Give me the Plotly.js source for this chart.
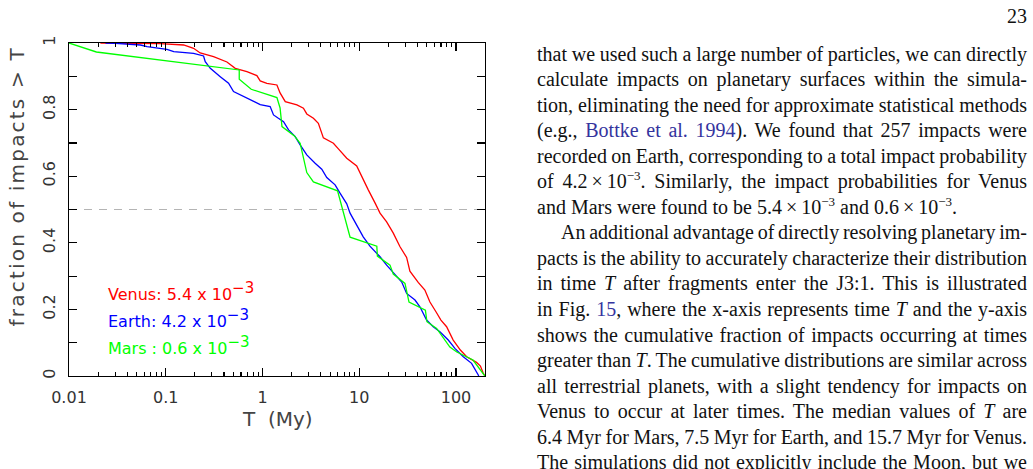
<!DOCTYPE html>
<html>
<head>
<meta charset="utf-8">
<script src="https://cdn.plot.ly/plotly-3.0.1.min.js"></script>
<style>
  html, body { margin: 0; padding: 0; background: #fff; }
  #page { position: relative; width: 1033px; height: 469px; overflow: hidden; }
  #chart { position: absolute; left: 0; top: 0; width: 1033px; height: 469px; }
  #pageno { position: absolute; right: 6px; top: 4px; font: 20px "Liberation Serif", serif; line-height: 24px; color: #111; }
  #body { position: absolute; left: 537px; top: 41.5px; width: 490px; font-family: "Liberation Serif", serif; font-size: 20px; color: #111; }
  .ln { height: 25.55px; line-height: 25.55px; white-space: nowrap; }
  .ln > span { display: inline-block; white-space: nowrap; }
  .ind { padding-left: 24px; }
  .ref { color: #34349e; }
  sup { font-size: 13px; line-height: 0; vertical-align: 8px; }
  .annotation[data-index="0"] text { letter-spacing: 2.2px; }
</style>
</head>
<body>
<div id="page">
  <div id="chart"></div>
  <div id="pageno">23</div>
  <div id="body">
    <div class="ln"><span>that we used such a large number of particles, we can directly</span></div>
    <div class="ln"><span>calculate impacts on planetary surfaces within the simula-</span></div>
    <div class="ln"><span>tion, eliminating the need for approximate statistical methods</span></div>
    <div class="ln"><span>(e.g., <span class="ref">Bottke et al. 1994</span>). We found that 257 impacts were</span></div>
    <div class="ln"><span>recorded on Earth, corresponding to a total impact probability</span></div>
    <div class="ln"><span>of 4.2&thinsp;×&thinsp;10<sup>−3</sup>. Similarly, the impact probabilities for Venus</span></div>
    <div class="ln last"><span>and Mars were found to be 5.4&thinsp;×&thinsp;10<sup>−3</sup> and 0.6&thinsp;×&thinsp;10<sup>−3</sup>.</span></div>
    <div class="ln ind"><span>An additional advantage of directly resolving planetary im-</span></div>
    <div class="ln"><span>pacts is the ability to accurately characterize their distribution</span></div>
    <div class="ln"><span>in time <i>T</i> after fragments enter the J3:1. This is illustrated</span></div>
    <div class="ln"><span>in Fig. <span class="ref">15</span>, where the x-axis represents time <i>T</i> and the y-axis</span></div>
    <div class="ln"><span>shows the cumulative fraction of impacts occurring at times</span></div>
    <div class="ln"><span>greater than <i>T</i>. The cumulative distributions are similar across</span></div>
    <div class="ln"><span>all terrestrial planets, with a slight tendency for impacts on</span></div>
    <div class="ln"><span>Venus to occur at later times. The median values of <i>T</i> are</span></div>
    <div class="ln"><span>6.4 Myr for Mars, 7.5 Myr for Earth, and 15.7 Myr for Venus.</span></div>
    <div class="ln"><span>The simulations did not explicitly include the Moon, but we</span></div>
  </div>
</div>
<script>
// Cumulative fraction of impacts occurring after time T (My), per planet
const venusT = [0.0211, 0.0314, 0.0879, 0.153, 0.194, 0.227, 0.312, 0.429, 0.523, 0.690, 0.875, 0.947, 1.11, 1.41, 1.52, 1.72, 2.27, 2.65, 2.87, 3.36, 3.78, 4.26, 5.41, 6.09, 7.43, 9.42, 10.6, 12.4, 14.6, 16.4, 19.2, 22.5, 26.4, 30.9, 33.4, 40.7, 47.7, 53.8, 62.1, 69.9, 80.0, 93.6, 111, 129, 163, 179, 191, 199];
const venusF = [1.0, 0.999, 0.998, 0.994, 0.984, 0.970, 0.959, 0.943, 0.924, 0.914, 0.902, 0.886, 0.879, 0.874, 0.850, 0.824, 0.814, 0.804, 0.787, 0.774, 0.759, 0.715, 0.699, 0.682, 0.654, 0.631, 0.598, 0.559, 0.519, 0.489, 0.463, 0.429, 0.388, 0.356, 0.315, 0.281, 0.258, 0.222, 0.193, 0.168, 0.148, 0.108, 0.078, 0.058, 0.041, 0.030, 0.009, 0.0];

const earthT = [0.0238, 0.0302, 0.0547, 0.0641, 0.103, 0.121, 0.194, 0.246, 0.256, 0.289, 0.366, 0.446, 0.502, 0.589, 0.746, 0.947, 1.20, 1.30, 1.46, 1.65, 1.86, 2.18, 2.45, 2.87, 3.50, 4.10, 4.62, 5.63, 6.33, 7.43, 8.04, 9.42, 11.0, 12.9, 16.4, 19.2, 22.5, 27.5, 30.9, 37.7, 42.4, 49.7, 58.2, 68.2, 83.2, 97.5, 119, 145, 170, 172];
const earthF = [1.0, 0.999, 0.994, 0.989, 0.981, 0.974, 0.969, 0.961, 0.944, 0.924, 0.899, 0.879, 0.854, 0.844, 0.829, 0.815, 0.809, 0.784, 0.774, 0.764, 0.739, 0.719, 0.694, 0.664, 0.639, 0.621, 0.596, 0.574, 0.549, 0.517, 0.489, 0.453, 0.418, 0.390, 0.358, 0.333, 0.309, 0.282, 0.248, 0.228, 0.208, 0.168, 0.148, 0.133, 0.108, 0.083, 0.058, 0.038, 0.003, 0.0];

const marsT = [0.01, 0.0192, 0.575, 0.575, 0.765, 1.41, 1.52, 1.59, 2.14, 2.45, 2.87, 3.36, 5.97, 8.04, 15.2, 15.4, 20.8, 22.5, 29.7, 32.7, 48.3, 50.1, 63.1, 68.2, 86.5, 102, 150, 199];
const marsF = [1.0, 0.973, 0.919, 0.891, 0.861, 0.836, 0.805, 0.749, 0.721, 0.699, 0.611, 0.583, 0.556, 0.417, 0.390, 0.360, 0.333, 0.306, 0.278, 0.222, 0.198, 0.163, 0.143, 0.129, 0.087, 0.072, 0.048, 0.0];

const planetNames = ["Venus", "Earth", "Mars "];
const impactProb = ["5.4", "4.2", "0.6"];
const planetColors = ["#ff0000", "#0000ff", "#00ff00"];
const medianLevel = 0.5;
const xTickVals = [0.01, 0.1, 1, 10, 100];
const xTickText = ["0.01", "0.1", "1", "10", "100"];

const series = [[venusT, venusF], [earthT, earthF], [marsT, marsF]];
const traces = series.map((s, i) => ({
  x: s[0], y: s[1], type: "scatter", mode: "lines",
  line: { color: planetColors[i], width: 1.3 },
  hoverinfo: "skip", showlegend: false
}));

// median reference line
traces.unshift({
  x: [0.01, 200], y: [medianLevel, medianLevel], type: "scatter", mode: "lines",
  line: { color: "#b4b4b4", width: 1.1, dash: "8px,7px" },
  hoverinfo: "skip", showlegend: false
});

const tickFont = { family: "DejaVu Sans, sans-serif", size: 16, color: "#333" };
const titleFont = { family: "DejaVu Sans, sans-serif", size: 20, color: "#444" };

const annotations = [
  { text: "fraction of impacts > T", xref: "paper", yref: "paper", x: -0.126, y: 0.572,
    textangle: -90, showarrow: false, font: titleFont, xanchor: "center", yanchor: "middle" },
  { text: "T  (My)", xref: "paper", yref: "paper", x: 0.5, y: -0.129,
    showarrow: false, font: titleFont, xanchor: "center", yanchor: "middle" }
];
const legendY = [0.255, 0.174, 0.093];
planetNames.forEach((n, i) => {
  annotations.push({
    text: n + ": " + impactProb[i] + " x 10<sup><span style=\"font-size:15px\">−3</span></sup>",
    xref: "paper", yref: "paper", x: 0.090, y: legendY[i],
    xanchor: "left", yanchor: "middle", showarrow: false,
    font: { family: "DejaVu Sans, sans-serif", size: 16, color: planetColors[i] }
  });
});

const layout = {
  width: 1033, height: 469,
  margin: { l: 68.5, r: 548, t: 43, b: 93 },
  paper_bgcolor: "#fff", plot_bgcolor: "#fff",
  showlegend: false,
  xaxis: {
    type: "log", range: [-2, 2.3], tickvals: xTickVals, ticktext: xTickText,
    ticks: "inside", ticklen: 8, tickwidth: 1.2, tickcolor: "#000",
    minor: { ticks: "inside", ticklen: 4, tickwidth: 1.1, tickcolor: "#000", dtick: "D1" },
    showline: true, linecolor: "#000", linewidth: 1.3, mirror: "ticks",
    showgrid: false, zeroline: false, tickfont: tickFont, ticklabelstandoff: 6
  },
  yaxis: {
    range: [0, 1], dtick: 0.2, tick0: 0,
    ticks: "inside", ticklen: 8, tickwidth: 1.2, tickcolor: "#000",
    minor: { ticks: "inside", ticklen: 8, tickwidth: 1.2, tickcolor: "#000", dtick: 0.1 },
    showline: true, linecolor: "#000", linewidth: 1.3, mirror: "ticks",
    showgrid: false, zeroline: false, tickfont: tickFont, tickangle: -90, ticklabelstandoff: 6
  },
  annotations: annotations
};

Plotly.newPlot("chart", traces, layout, { staticPlot: true, displayModeBar: false });

// spread each body line over the full column width (a few passes to settle rounding)
document.querySelectorAll("#body .ln").forEach(el => {
  if (el.classList.contains("last")) return;
  const span = el.firstElementChild;
  const pad = el.classList.contains("ind") ? 24 : 0;
  const target = el.getBoundingClientRect().width - pad;
  const gaps = (span.textContent.match(/[ \u00a0]/g) || []).length;
  if (!gaps) return;
  let ws = 0;
  for (let pass = 0; pass < 3; pass++) {
    const w = span.getBoundingClientRect().width;
    ws += (target - w) / gaps;
    span.style.wordSpacing = ws + "px";
  }
});
</script>
</body>
</html>
